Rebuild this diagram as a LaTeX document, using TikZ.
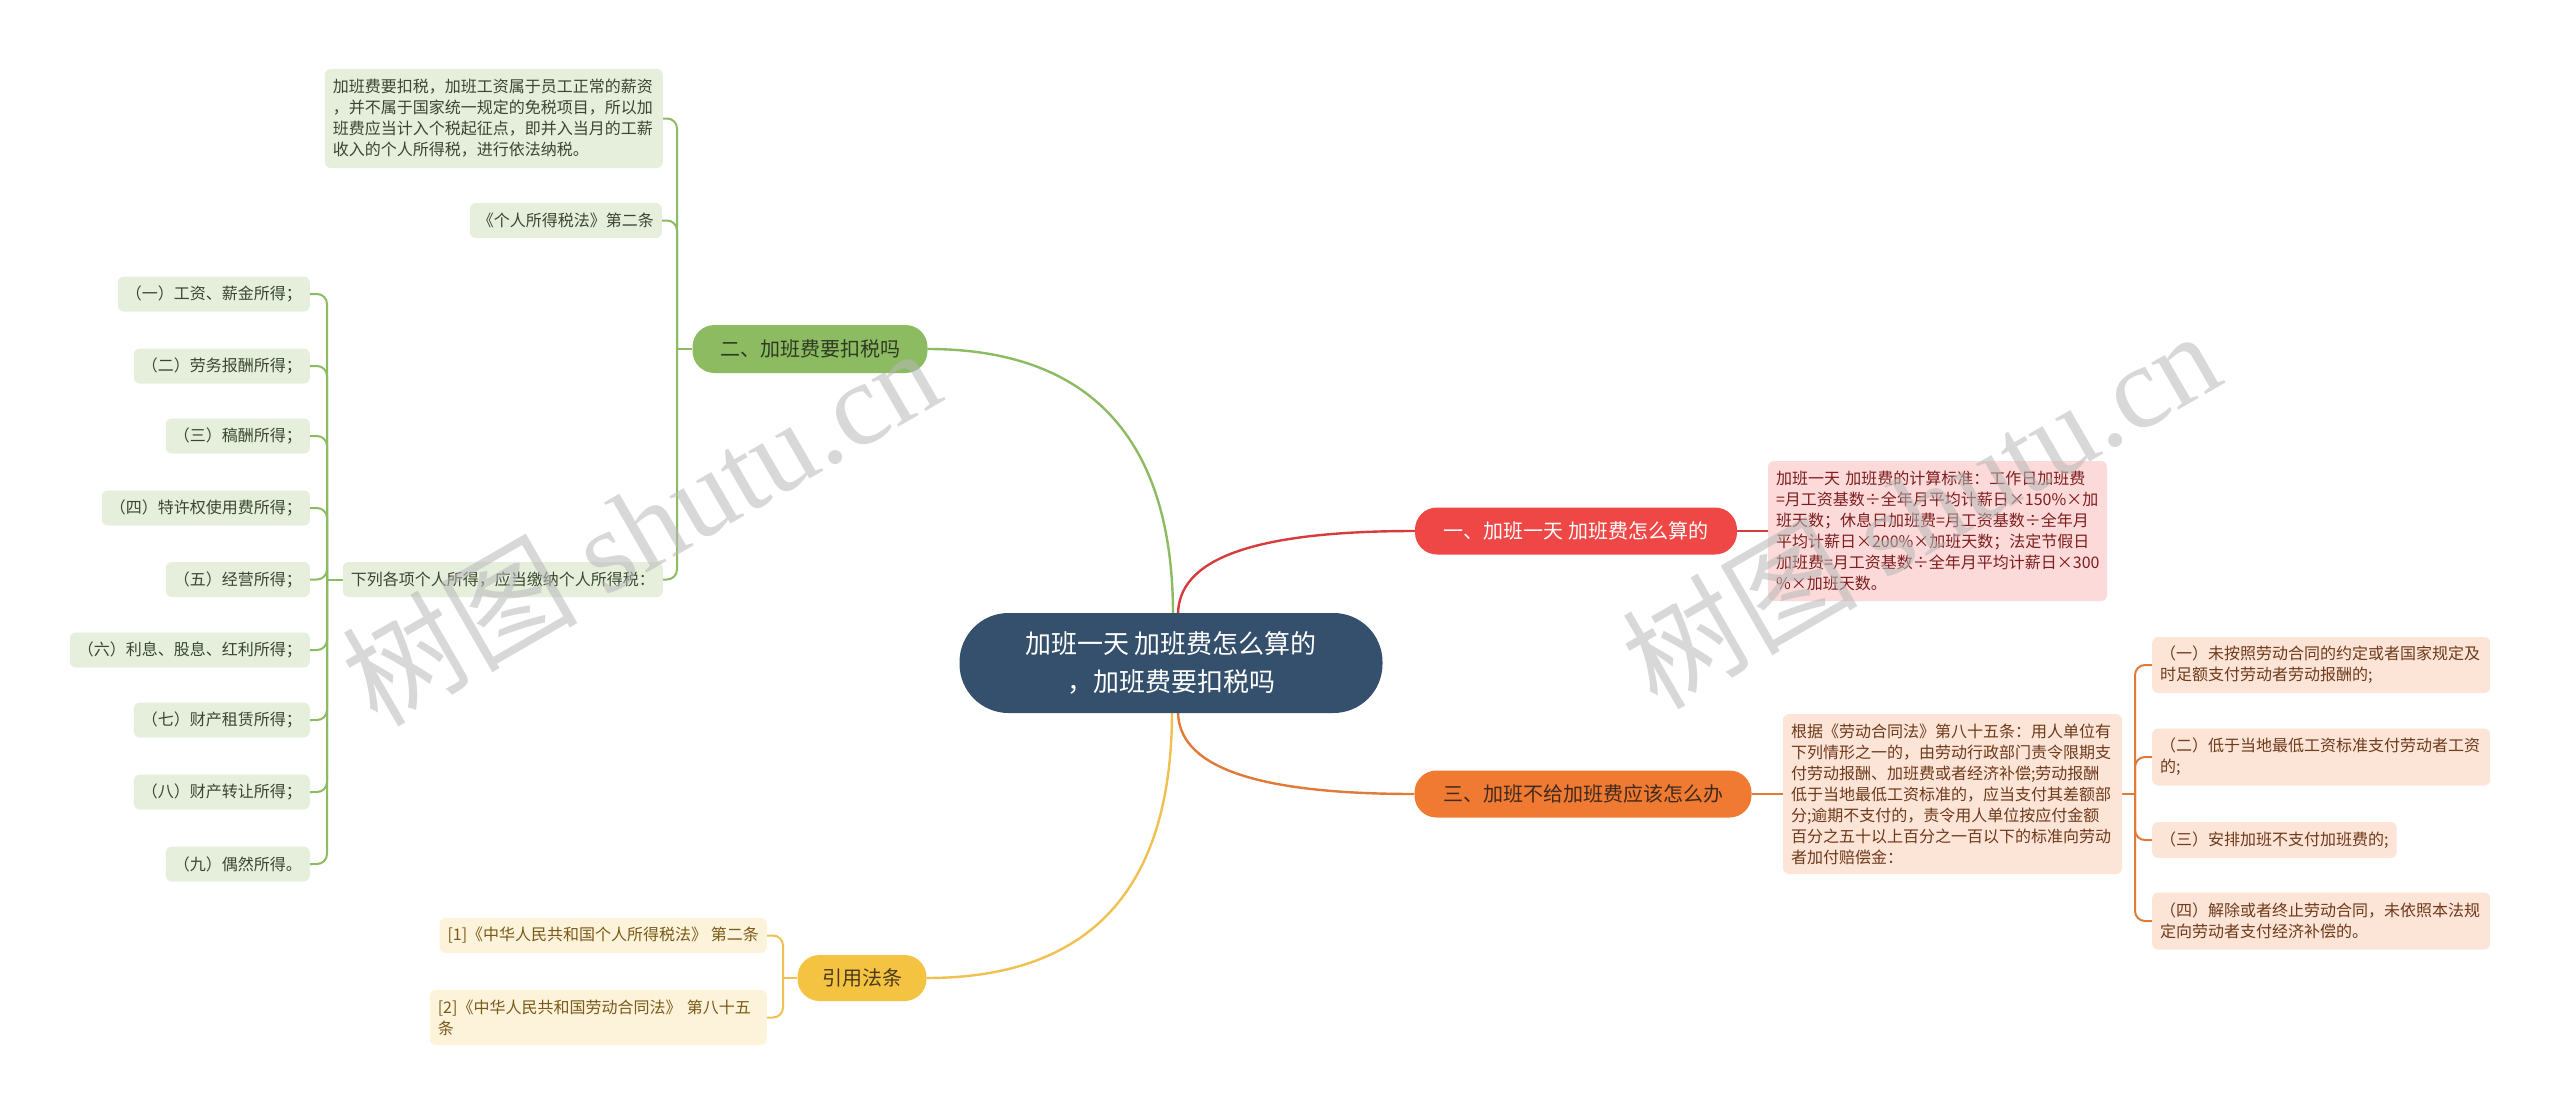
\documentclass[tikz,border=0pt]{standalone}
\usepackage{fontspec}
\setmainfont{Noto Sans CJK SC}
\newfontfamily\wmserif{Liberation Serif}
\usetikzlibrary{calc}
\definecolor{cnode}{HTML}{34506C}
\definecolor{redA}{HTML}{EF4646}
\definecolor{redL}{HTML}{D63C3C}
\definecolor{redF}{HTML}{FCDADA}
\definecolor{redT}{HTML}{7E1E1E}
\definecolor{orgA}{HTML}{F07A32}
\definecolor{orgL}{HTML}{E07A38}
\definecolor{orgF}{HTML}{FCE4D6}
\definecolor{orgT}{HTML}{6E3A1C}
\definecolor{orgBT}{HTML}{3E2A1E}
\definecolor{grnA}{HTML}{8CBB62}
\definecolor{grnL}{HTML}{8CBB62}
\definecolor{grnF}{HTML}{E6EFDC}
\definecolor{grnT}{HTML}{3A4730}
\definecolor{grnBT}{HTML}{2E3B22}
\definecolor{yelA}{HTML}{F5C342}
\definecolor{yelL}{HTML}{F0C050}
\definecolor{yelF}{HTML}{FDF3DB}
\definecolor{yelT}{HTML}{7A5A18}
\definecolor{yelBT}{HTML}{4A3A1A}
\definecolor{wmc}{HTML}{B8B8B8}
\pgfdeclarelayer{bg}
\pgfsetlayers{bg,main}
\begin{document}
\begin{tikzpicture}[x=1pt,y=-1pt,
  centre/.style={fill=cnode, rounded corners=49pt, minimum width=423pt, minimum height=100pt,
    text=white, align=center, font=\fontsize{26}{38}\selectfont, inner sep=0pt},
  branch/.style={rounded corners=22pt, minimum height=47pt, inner sep=0pt,
    font=\fontsize{20}{24}\selectfont},
  leaf/.style={rounded corners=6pt, inner xsep=8pt, inner ysep=0pt, align=left,
    font=\fontsize{16}{21}\selectfont},
  gleaf/.style={leaf, fill=grnF, text=grnT, minimum height=35pt, anchor=east},
  oleaf/.style={leaf, fill=orgF, text=orgT, anchor=west},
  yleaf/.style={leaf, fill=yelF, text=yelT, anchor=east},
  conn/.style={line width=2.4pt},
  sub/.style={line width=2pt, rounded corners=10pt},
  wm/.style={rotate=30, text=wmc, opacity=0.55, font=\fontsize{118}{125}\selectfont, inner sep=0pt}
]
\useasboundingbox (0,0) rectangle (2560,1116);

% centre
\node[centre] (c) at (1171,663) {加班一天 加班费怎么算的\\，加班费要扣税吗};

% branches
\node[branch, fill=redA, text=white, minimum width=322pt] (b1) at (1576,531) {一、加班一天 加班费怎么算的};
\node[branch, fill=grnA, text=grnBT, minimum width=235pt, minimum height=48pt] (b2) at (810,349) {二、加班费要扣税吗};
\node[branch, fill=orgA, text=orgBT, minimum width=337pt] (b3) at (1583,794) {三、加班不给加班费应该怎么办};
\node[branch, fill=yelA, text=yelBT, minimum width=129pt, minimum height=46pt] (b4) at (862,978) {引用法条};

% red detail
\node[leaf, fill=redF, text=redT, text width=323pt, minimum height=140pt] (d1) at (1937.5,531) {加班一天~加班费的计算标准：工作日加班费\\=月工资基数÷全年月平均计薪日×150\%×加\\班天数；休息日加班费=月工资基数÷全年月\\平均计薪日×200\%×加班天数；法定节假日\\加班费=月工资基数÷全年月平均计薪日×300\\\%×加班天数。};

% orange detail
\node[leaf, fill=orgF, text=orgT, text width=323pt, minimum height=160pt] (d3) at (1952.5,794) {根据《劳动合同法》第八十五条：用人单位有\\下列情形之一的，由劳动行政部门责令限期支\\付劳动报酬、加班费或者经济补偿;劳动报酬\\低于当地最低工资标准的，应当支付其差额部\\分;逾期不支付的，责令用人单位按应付金额\\百分之五十以上百分之一百以下的标准向劳动\\者加付赔偿金：};

% orange sub items
\node[oleaf, text width=322pt, minimum height=56pt] (o1) at (2152,665) {（一）未按照劳动合同的约定或者国家规定及\\时足额支付劳动者劳动报酬的;};
\node[oleaf, text width=322pt, minimum height=57pt] (o2) at (2152,757) {（二）低于当地最低工资标准支付劳动者工资\\的;};
\node[oleaf, minimum height=36pt] (o3) at (2152,840) {（三）安排加班不支付加班费的;};
\node[oleaf, text width=322pt, minimum height=57pt] (o4) at (2152,921) {（四）解除或者终止劳动合同，未依照本法规\\定向劳动者支付经济补偿的。};

% green items
\node[gleaf, text width=322pt, minimum height=99pt] (gA) at (663,118.5) {加班费要扣税，加班工资属于员工正常的薪资\\，并不属于国家统一规定的免税项目，所以加\\班费应当计入个税起征点，即并入当月的工薪\\收入的个人所得税，进行依法纳税。};
\node[gleaf] (gB) at (662,220.5) {《个人所得税法》第二条};
\node[gleaf] (gC) at (663,579.5) {下列各项个人所得，应当缴纳个人所得税：};

\node[gleaf] (g1) at (310,294) {（一）工资、薪金所得；};
\node[gleaf] (g2) at (310,366) {（二）劳务报酬所得；};
\node[gleaf] (g3) at (310,436) {（三）稿酬所得；};
\node[gleaf] (g4) at (310,508) {（四）特许权使用费所得；};
\node[gleaf] (g5) at (310,579.5) {（五）经营所得；};
\node[gleaf] (g6) at (310,650) {（六）利息、股息、红利所得；};
\node[gleaf] (g7) at (310,720) {（七）财产租赁所得；};
\node[gleaf] (g8) at (310,792) {（八）财产转让所得；};
\node[gleaf] (g9) at (310,864) {（九）偶然所得。};

% yellow items
\node[yleaf, minimum height=35pt] (y1) at (767,935.5) {[1]《中华人民共和国个人所得税法》~第二条};
\node[yleaf, text width=321pt, minimum height=55pt] (y2) at (767,1017.5) {[2]《中华人民共和国劳动合同法》~第八十五\\条};

% junctions
\coordinate (oj) at (2135,794);
\coordinate (gj) at (677,349);
\coordinate (cj) at (327,579.5);
\coordinate (yj) at (783,978);

\begin{pgfonlayer}{bg}
  \draw[conn, grnL] ($(c.north)+(2,2)$) .. controls (1173,450) and (1100,349) .. (b2.east);
  \draw[conn, redL] ($(c.north)+(7,2)$) .. controls (1178,560) and (1250,531) .. (b1.west);
  \draw[conn, orgL] ($(c.south)+(7,-2)$) .. controls (1178,765) and (1250,794) .. (b3.west);
  \draw[conn, yelL] ($(c.south)+(1,-2)$) .. controls (1172,900) and (1080,978) .. (b4.east);

  \draw[sub, redL] (b1.east) -- (d1.west);
  \draw[sub, orgL] (b3.east) -- (d3.west);
  \draw[sub, orgL] (d3.east) -- (oj);
  \foreach \n in {o1,o2,o3,o4} \draw[sub, orgL] (oj) |- (\n.west);

  \draw[sub, grnL] (b2.west) -- (gj);
  \foreach \n in {gA,gB,gC} \draw[sub, grnL] (gj) |- (\n.east);
  \draw[sub, grnL] (gC.west) -- (cj);
  \foreach \n in {g1,g2,g3,g4,g5,g6,g7,g8,g9} \draw[sub, grnL] (cj) |- (\n.east);

  \draw[sub, yelL] (b4.west) -- (yj);
  \foreach \n in {y1,y2} \draw[sub, yelL] (yj) |- (\n.east);
\end{pgfonlayer}

% watermarks
\node[wm] (wm1) at (640,525) {树图 {\wmserif shutu.cn}};
\node[wm] (wm2) at (1920,508) {树图 {\wmserif shutu.cn}};
\end{tikzpicture}
\end{document}
